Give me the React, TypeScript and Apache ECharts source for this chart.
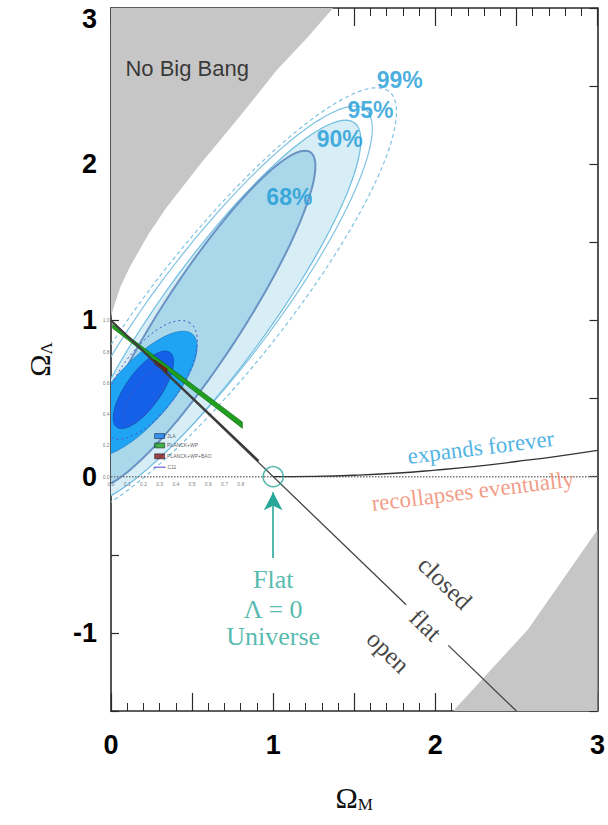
import React, { useEffect, useRef } from "react";
import * as echarts from "echarts";

// ---- axis tick labels ----
const xTickLabels = ["0", "1", "2", "3"];
const yTickLabels = ["-1", "0", "1", "2", "3"];

// ---- shaded regions ----
const noBigBangEdge: [number, number][] = [
  [0, 3], [0, 1.02], [0.015, 1.08], [0.06, 1.22], [0.12, 1.35], [0.23, 1.55], [0.34, 1.72],
  [0.55, 2.0], [0.79, 2.3], [1.02, 2.6], [1.21, 2.81], [1.37, 3.0],
];
const lowerRightRegion: [number, number][] = [
  [2.11, -1.5], [2.57, -0.98], [3, -0.34], [3, -1.5],
];

// ---- lines ----
const flatLineA: [number, number][] = [[0, 1], [1.82, -0.82]];
const flatLineB: [number, number][] = [[2.08, -1.08], [2.5, -1.5]];
const insetFlatLine: [number, number][] = [[0, 1.0], [0.91, 0.1]];
const zeroLine: [number, number][] = [[0, 0], [3, 0]];
const expandCurve: [number, number][] = [
  [1, 0], [1.25, 0.002], [1.5, 0.009], [1.75, 0.022], [2, 0.042], [2.25, 0.066],
  [2.5, 0.097], [2.75, 0.13], [3, 0.168],
];

// ---- supernova confidence contours (ellipse parameters) ----
const snLevels = ["68%", "90%", "95%", "99%"];
const snCenters: [number, number][] = [[0.56, 1.01], [0.65, 1.055], [0.64, 1.08], [0.67, 1.1]];
const snSemiMajor = [1.26, 1.48, 1.575, 1.72];
const snSemiMinor = [0.25, 0.33, 0.365, 0.405];
const snAngles = [58, 55, 54, 52.7];
const snLabelPos: [number, number][] = [[1.1, 1.79], [1.41, 2.16], [1.6, 2.35], [1.78, 2.54]];

// ---- inset (JLA / Planck / C11) ----
const jlaCenters: [number, number][] = [[0.18, 0.53], [0.2, 0.556]];
const jlaSemiMajor = [0.5, 0.29];
const jlaSemiMinor = [0.185, 0.11];
const jlaAngles = [50, 56];
const c11Centers: [number, number][] = [[0.24, 0.62], [0.21, 0.52]];
const c11SemiMajor = [0.44, 0.22];
const c11SemiMinor = [0.19, 0.075];
const c11Angles = [56, 56];
const planckBand: [number, number][] = [[0.01, 0.975], [0.81, 0.35], [0.81, 0.31], [0.01, 0.95]];
const baoBand: [number, number][] = [[0.27, 0.745], [0.345, 0.69], [0.345, 0.665], [0.27, 0.72]];
const insetXTicks = ["0.0", "0.1", "0.2", "0.3", "0.4", "0.5", "0.6", "0.7", "0.8"];
const insetXValues = [0, 0.1, 0.2, 0.3, 0.4, 0.5, 0.6, 0.7, 0.8];
const insetYTicks = ["0.0", "0.2", "0.4", "0.6", "0.8", "1.0"];
const insetYValues = [0, 0.2, 0.4, 0.6, 0.8, 1.0];
const insetLegendNames = ["JLA", "PLANCK+WP", "PLANCK+WP+BAO", "C11"];
const insetLegendY = [0.26, 0.2, 0.13, 0.06];
const insetLegendColors = ["#1a7ff0", "#1f9e1f", "#8b1a1a", "#5050c8"];

// ---- annotations ----
const annoText = ["No Big Bang", "expands forever", "recollapses eventually", "closed", "flat", "open", "Flat", "Λ = 0", "Universe"];
const annoPos: [number, number][] = [
  [0.47, 2.61], [2.28, 0.19], [2.23, -0.09], [2.06, -0.68], [1.94, -0.95], [1.71, -1.12],
  [1.0, -0.66], [1.0, -0.85], [1.0, -1.02],
];
const annoRotate = [0, 7, 7, -44, -44, -44, 0, 0, 0];
const annoColor = ["#111", "#1ea0dc", "#ef8468", "#111", "#111", "#111", "#29a899", "#29a899", "#29a899"];
const annoSize = [22, 23, 23, 25, 25, 25, 26, 26, 26];
const annoSerif = [false, true, true, true, true, true, true, true, true];

const flatPoint: [number, number] = [1, 0];
const arrowFrom: [number, number] = [1, -0.52];
const arrowTo: [number, number] = [1, -0.1];

const TEAL = "#29a899";
const SANS = "'Liberation Sans', Arial, Helvetica, sans-serif";
const SERIF = "'Liberation Serif', 'Times New Roman', serif";

function ellipsePoints(api: any, c: [number, number], a: number, b: number, angDeg: number) {
  const th = (angDeg * Math.PI) / 180;
  const pts: number[][] = [];
  const n = 90;
  for (let i = 0; i < n; i++) {
    const p = (i / n) * Math.PI * 2;
    const x = c[0] + a * Math.cos(p) * Math.cos(th) - b * Math.sin(p) * Math.sin(th);
    const y = c[1] + a * Math.cos(p) * Math.sin(th) + b * Math.sin(p) * Math.cos(th);
    pts.push(api.coord([x, y]));
  }
  return pts;
}

function ellipseSeries(c: [number, number], a: number, b: number, ang: number, style: any, z: number) {
  return {
    type: "custom",
    coordinateSystem: "cartesian2d",
    clip: true,
    silent: true,
    z,
    data: [c],
    renderItem: (_p: any, api: any) => ({
      type: "polygon",
      shape: { points: ellipsePoints(api, c, a, b, ang) },
      style,
    }),
  };
}

function polygonSeries(pts: [number, number][], style: any, z: number) {
  return {
    type: "custom",
    coordinateSystem: "cartesian2d",
    clip: true,
    silent: true,
    z,
    data: [pts[0]],
    renderItem: (_p: any, api: any) => ({
      type: "polygon",
      shape: { points: pts.map((p) => api.coord(p)) },
      style,
    }),
  };
}

function lineSeries(data: [number, number][], lineStyle: any, z: number, smooth = false) {
  return {
    type: "line",
    data,
    symbol: "none",
    smooth,
    lineStyle,
    silent: true,
    z,
  };
}

const axisColor = "#2a2a2a";

function xAxisCfg(pos: "bottom" | "top", labels: boolean) {
  return {
    type: "value",
    position: pos,
    min: 0,
    max: 3,
    interval: 0.5,
    axisLine: { show: true, onZero: false, lineStyle: { color: axisColor, width: 1.6 } },
    axisTick: { show: true, inside: true, length: 18, lineStyle: { color: axisColor, width: 1.2 } },
    minorTick: { show: true, splitNumber: 5, length: 8, lineStyle: { color: axisColor, width: 1 } },
    splitLine: { show: false },
    minorSplitLine: { show: false },
    axisLabel: labels
      ? {
          show: true,
          margin: 20,
          color: "#000",
          fontSize: 27,
          fontWeight: "bold",
          fontFamily: SANS,
          formatter: (v: number) => (xTickLabels.includes(String(v)) ? String(v) : ""),
        }
      : { show: false },
    name: labels ? "{a|Ω}{b|M}" : "",
    nameLocation: "middle",
    nameGap: 70,
    nameTextStyle: {
      rich: {
        a: { fontSize: 30, fontFamily: SERIF, color: "#111", lineHeight: 32 },
        b: { fontSize: 17, fontFamily: SERIF, color: "#111", verticalAlign: "bottom", lineHeight: 17 },
      },
    },
  };
}

function yAxisCfg(pos: "left" | "right", labels: boolean) {
  return {
    type: "value",
    position: pos,
    min: -1.5,
    max: 3,
    interval: 0.5,
    axisLine: { show: true, onZero: false, lineStyle: { color: axisColor, width: 1.6 } },
    axisTick: { show: true, inside: true, length: 8, lineStyle: { color: axisColor, width: 1.2 } },
    splitLine: { show: false },
    axisLabel: labels
      ? {
          show: true,
          margin: 14,
          color: "#000",
          fontSize: 27,
          fontWeight: "bold",
          fontFamily: SANS,
          formatter: (v: number) => {
            const s = String(v);
            if (!yTickLabels.includes(s)) return "";
            return s === "3" ? "{t|3}" : s;
          },
          rich: { t: { fontSize: 27, fontWeight: "bold", fontFamily: SANS, color: "#000", padding: [22, 0, 0, 0] } },
        }
      : { show: false },
    name: labels ? "{a|Ω}{b|Λ}" : "",
    nameLocation: "middle",
    nameGap: 56,
    nameRotate: 90,
    nameTextStyle: {
      rich: {
        a: { fontSize: 30, fontFamily: SERIF, color: "#111", lineHeight: 32 },
        b: { fontSize: 17, fontFamily: SERIF, color: "#111", verticalAlign: "bottom", lineHeight: 17 },
      },
    },
  };
}

export default function App() {
  const ref = useRef<HTMLDivElement>(null);
  useEffect(() => {
    if (!ref.current) return;
    const chart = echarts.init(ref.current, null, { renderer: "svg" });

    const series: any[] = [];
    // gray regions
    series.push(polygonSeries(noBigBangEdge, { fill: "#c6c6c6" }, 1));
    series.push(polygonSeries(lowerRightRegion, { fill: "#c6c6c6" }, 1));
    // SN contours: 99 dashed, 95 solid, 90 filled, 68 filled
    series.push(ellipseSeries(snCenters[3], snSemiMajor[3], snSemiMinor[3], snAngles[3],
      { fill: "none", stroke: "#7fc2e2", lineWidth: 1.2, lineDash: [4, 3] }, 2));
    series.push(ellipseSeries(snCenters[2], snSemiMajor[2], snSemiMinor[2], snAngles[2],
      { fill: "none", stroke: "#7fc2e2", lineWidth: 1.2 }, 2));
    series.push(ellipseSeries(snCenters[1], snSemiMajor[1], snSemiMinor[1], snAngles[1],
      { fill: "#d8eef7", stroke: "#6fbde0", lineWidth: 1.2 }, 2));
    series.push(ellipseSeries(snCenters[0], snSemiMajor[0], snSemiMinor[0], snAngles[0],
      { fill: "#a9d8eb", stroke: "#6a93c4", lineWidth: 2 }, 3));
    // inset JLA
    series.push(ellipseSeries(jlaCenters[0], jlaSemiMajor[0], jlaSemiMinor[0], jlaAngles[0],
      { fill: "#1fa3f3", stroke: "#1a6fc0", lineWidth: 0.6 }, 4));
    series.push(ellipseSeries(jlaCenters[1], jlaSemiMajor[1], jlaSemiMinor[1], jlaAngles[1],
      { fill: "#1560e8", stroke: "#0d40a0", lineWidth: 0.6 }, 4));
    series.push(ellipseSeries(c11Centers[0], c11SemiMajor[0], c11SemiMinor[0], c11Angles[0],
      { fill: "none", stroke: "#5050c8", lineWidth: 1, lineDash: [2, 3] }, 4));
    series.push(ellipseSeries(c11Centers[1], c11SemiMajor[1], c11SemiMinor[1], c11Angles[1],
      { fill: "none", stroke: "#5050c8", lineWidth: 1, lineDash: [2, 3] }, 4));
    series.push(polygonSeries(planckBand, { fill: "#1f9e1f", stroke: "#0c5f0c", lineWidth: 0.6 }, 5));
    series.push(polygonSeries(baoBand, { fill: "#8b1a1a", stroke: "#4a0a0a", lineWidth: 0.6 }, 6));

    // lines
    series.push(lineSeries(zeroLine, { color: "#777", width: 1.5, type: "dotted" }, 6));
    series.push(lineSeries(insetFlatLine, { color: "#333", width: 2.2 }, 7));
    series.push(lineSeries(flatLineA, { color: "#444", width: 1.3 }, 7));
    series.push(lineSeries(flatLineB, { color: "#444", width: 1.3 }, 7));
    series.push(lineSeries(expandCurve, { color: "#333", width: 1.3 }, 7, true));

    // arrow + circle
    series.push({
      type: "line",
      data: [],
      silent: true,
      z: 8,
      markLine: {
        silent: true,
        symbol: ["none", "arrow"],
        symbolSize: [14, 18],
        label: { show: false },
        lineStyle: { color: TEAL, width: 1.6, type: "solid" },
        data: [[{ coord: arrowFrom }, { coord: arrowTo }]],
      },
    });
    series.push({
      type: "scatter",
      data: [flatPoint],
      symbol: "circle",
      symbolSize: 20,
      silent: true,
      z: 8,
      itemStyle: { color: "rgba(0,0,0,0)", borderColor: TEAL, borderWidth: 1.5 },
    });

    // annotations
    const hidden = { color: "rgba(0,0,0,0)" };
    series.push({
      type: "scatter",
      symbolSize: 1,
      silent: true,
      z: 10,
      itemStyle: hidden,
      data: annoText.map((t, i) => ({
        value: annoPos[i],
        label: {
          show: true,
          position: "inside",
          formatter: t,
          rotate: annoRotate[i],
          color: annoColor[i],
          fontSize: annoSize[i],
          fontFamily: annoSerif[i] ? SERIF : SANS,
        },
      })),
    });
    series.push({
      type: "scatter",
      symbolSize: 1,
      silent: true,
      z: 10,
      itemStyle: hidden,
      data: snLevels.map((t, i) => ({
        value: snLabelPos[i],
        label: {
          show: true,
          position: "inside",
          formatter: t,
          color: "#1b9ad6",
          fontSize: 23,
          fontWeight: "bold",
          fontFamily: SANS,
        },
      })),
    });
    // inset tick labels
    series.push({
      type: "scatter",
      symbolSize: 1,
      silent: true,
      clip: false,
      z: 10,
      itemStyle: hidden,
      data: [
        ...insetXTicks.map((t, i) => ({
          value: [insetXValues[i], -0.045],
          label: { show: true, position: "inside", formatter: t, fontSize: 5, color: "#555", fontFamily: SANS },
        })),
        ...insetYTicks.map((t, i) => ({
          value: [-0.03, insetYValues[i]],
          label: { show: true, position: "inside", formatter: t, fontSize: 5, color: "#555", fontFamily: SANS },
        })),
      ],
    });
    // inset legend
    series.push({
      type: "scatter",
      silent: true,
      z: 10,
      data: insetLegendNames.map((t, i) => ({
        value: [0.3, insetLegendY[i]],
        symbol: "rect",
        symbolSize: i === 3 ? [10, 1] : [10, 5],
        itemStyle: { color: insetLegendColors[i], borderColor: i === 3 ? insetLegendColors[i] : "#112", borderWidth: 0.6 },
        label: {
          show: true,
          position: "right",
          distance: 2,
          formatter: t,
          fontSize: 5,
          color: "#333",
          fontFamily: SANS,
        },
      })),
    });

    chart.setOption({
      animation: false,
      backgroundColor: "#fff",
      grid: { left: 111, right: 7, top: 8, bottom: 114, containLabel: false },
      xAxis: [xAxisCfg("bottom", true), xAxisCfg("top", false)],
      yAxis: [yAxisCfg("left", true), yAxisCfg("right", false)],
      series,
    });
    return () => chart.dispose();
  }, []);

  return (
    <div
      ref={ref}
      style={{ position: "fixed", left: 0, top: 0, width: 608, height: 825, background: "#fff" }}
    />
  );
}
